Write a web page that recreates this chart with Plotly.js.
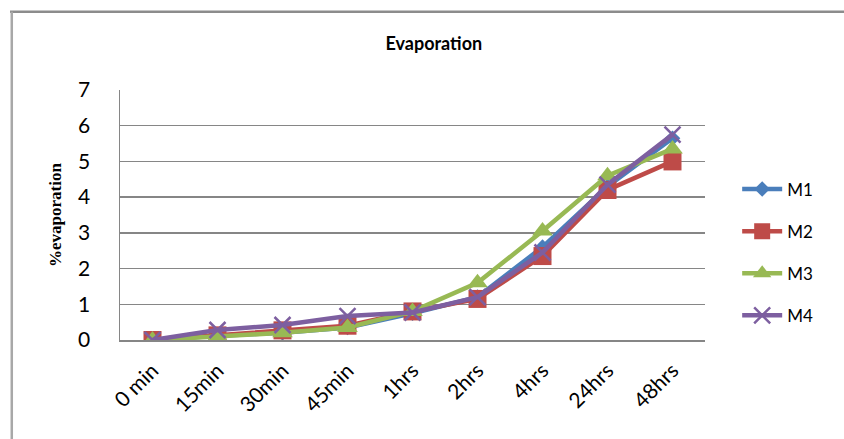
<!DOCTYPE html>
<html>
<head>
<meta charset="utf-8">
<script src="https://cdn.plot.ly/plotly-3.0.1.min.js"></script>
<style>html,body{margin:0;padding:0;background:#fff;}#chart{width:844px;height:439px;}</style>
</head>
<body>
<div id="chart"></div>
<script>
const categories = ["0 min", "15min", "30min", "45min", "1hrs", "2hrs", "4hrs", "24hrs", "48hrs"];
const m1 = [0, 0.12, 0.2, 0.35, 0.75, 1.2, 2.6, 4.3, 5.65];
const m2 = [0, 0.13, 0.27, 0.4, 0.8, 1.15, 2.35, 4.2, 5.0];
const m3 = [0, 0.1, 0.2, 0.35, 0.8, 1.6, 3.05, 4.6, 5.35];
const m4 = [0, 0.28, 0.42, 0.67, 0.77, 1.2, 2.45, 4.35, 5.75];
const seriesNames = ["M1", "M2", "M3", "M4"];

const colors = ["#4A7EBB", "#BE4B48", "#98B954", "#7D5FA0"];
const symbols = ["diamond", "square", "triangle-up", "x-thin-open"];
const sizes = [12, 18, 18, 16];
const vals = [m1, m2, m3, m4];

const traces = vals.map((v, i) => ({
  type: "scatter",
  mode: "lines+markers",
  x: categories,
  y: v,
  name: seriesNames[i],
  legendgroup: seriesNames[i],
  line: {color: colors[i], width: 4.5},
  marker: {symbol: symbols[i], size: sizes[i], color: colors[i],
           line: {color: colors[i], width: i === 3 ? 2.5 : 0}}
}));

const layout = {
  width: 844, height: 439,
  margin: {l: 120, r: 139, t: 90, b: 99},
  paper_bgcolor: "#ffffff",
  plot_bgcolor: "#ffffff",
  title: {text: "<b>Evaporation</b>", x: 0.514, xanchor: "center", y: 0.9, yanchor: "middle",
          font: {family: "Lato, 'Liberation Sans', sans-serif", size: 18, color: "#000"}},
  xaxis: {
    type: "category",
    range: [-0.5, 8.5],
    showgrid: false,
    showline: true, linecolor: "#868686", linewidth: 2,
    ticks: "", tickangle: -45,
    ticklabelstandoff: 8,
    tickfont: {family: "Lato, 'Liberation Sans', sans-serif", size: 21, color: "#000"},
    zeroline: false,
    fixedrange: true
  },
  yaxis: {
    range: [0, 7], dtick: 1, tick0: 0,
    showgrid: true, gridcolor: "#868686", gridwidth: 1.5,
    showline: true, linecolor: "#868686", linewidth: 1.5,
    zeroline: false,
    ticks: "",
    ticklabelstandoff: 24,
    tickfont: {family: "Lato, 'Liberation Sans', sans-serif", size: 21, color: "#000"},
    title: {text: "<b>%evaporation</b>", standoff: 12,
            font: {family: "'Liberation Serif', 'DejaVu Serif', serif", size: 17, color: "#000"}},
    fixedrange: true
  },
  showlegend: true,
  legend: {
    x: 1.055, xanchor: "left", y: 0.35, yanchor: "middle",
    traceorder: "grouped", tracegroupgap: 17,
    font: {family: "Lato, 'Liberation Sans', sans-serif", size: 17, color: "#000"},
    bgcolor: "rgba(0,0,0,0)", itemwidth: 40
  },
  shapes: [
    {type: "line", xref: "paper", yref: "paper", x0: -0.188, x1: 1.3, y0: 1.313, y1: 1.313,
     line: {color: "#8c8c8c", width: 2.5}},
    {type: "line", xref: "paper", yref: "paper", x0: -0.185, x1: -0.185, y0: 1.313, y1: -0.5,
     line: {color: "#a8a8a8", width: 2.5}}
  ]
};

Plotly.newPlot("chart", traces, layout, {displayModeBar: false, staticPlot: true});
</script>
</body>
</html>
